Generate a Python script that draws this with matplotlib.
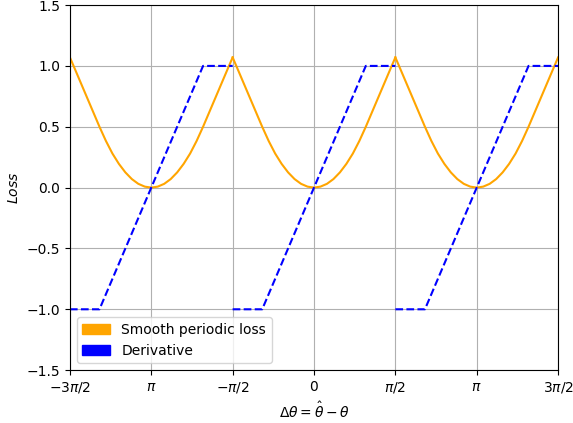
import numpy as np
import matplotlib
matplotlib.use("Agg")
import matplotlib.pyplot as plt
import matplotlib.patches as mpatches

# period centres (minima of the loss)
centres = [-np.pi, 0.0, np.pi]

loss_offsets = [0.0, 0.125, 0.25, 0.375, 0.5, 0.625, 0.75, 0.875, 1.0,
                1.125, 1.25, 1.375, 1.5, np.pi / 2]
loss_values = [0.0, 0.008, 0.031, 0.07, 0.125, 0.195, 0.28, 0.383, 0.5,
               0.625, 0.75, 0.875, 1.0, 1.07]

# derivative corners over one period
deriv_offsets = [-np.pi / 2, -1.0, 1.0, np.pi / 2]
deriv_values = [-1.0, -1.0, 1.0, 1.0]

tick_pos = [-3 * np.pi / 2, -np.pi, -np.pi / 2, 0, np.pi / 2, np.pi, 3 * np.pi / 2]
tick_labels = [r"$-3\pi/2$", r"$\pi$", r"$-\pi/2$", r"$0$", r"$\pi/2$", r"$\pi$", r"$3\pi/2$"]

fig = plt.figure(figsize=(5.73, 4.23), dpi=100)
ax = fig.add_axes([0.122, 0.125, 0.852, 0.863])

off = np.array(loss_offsets)
val = np.array(loss_values)
for c in centres:
    xs = np.concatenate([c - off[::-1], c + off[1:]])
    ys = np.concatenate([val[::-1], val[1:]])
    ax.plot(xs, ys, color="orange")
    ax.plot(c + np.array(deriv_offsets), deriv_values, "--", color="blue")

ax.set_xlim(-3 * np.pi / 2, 3 * np.pi / 2)
ax.set_ylim(-1.5, 1.5)
ax.set_xticks(tick_pos)
ax.set_xticklabels(tick_labels)
ax.set_xlabel(r"$\Delta\theta = \hat{\theta} - \theta$")
ax.set_ylabel(r"$Loss$")
ax.grid(True)

handles = [mpatches.Patch(color="orange", label="Smooth periodic loss"),
           mpatches.Patch(color="blue", label="Derivative")]
ax.legend(handles=handles, loc="lower left")

fig.savefig("out.png", dpi=100)
